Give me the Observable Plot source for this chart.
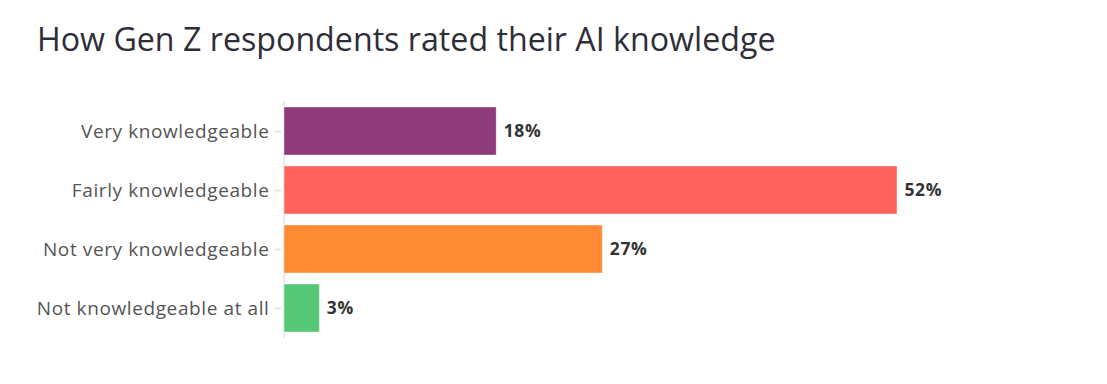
<!DOCTYPE html>
<html><head><meta charset="utf-8">
<script src="https://cdn.jsdelivr.net/npm/d3@7"></script>
<script src="https://cdn.jsdelivr.net/npm/@observablehq/plot@0.6"></script>
<style>
body{margin:0;background:#fff;font-family:"Open Sans",sans-serif;}
h2{margin:0;padding:19px 0 0 37px;height:60px;box-sizing:border-box;font-weight:400;font-size:32.2px;color:#2e2e38;line-height:40px;}
#chart svg text{letter-spacing:0.6px;}
</style></head><body>
<h2>How Gen Z respondents rated their AI knowledge</h2>
<div id="chart"></div>
<script>
const categories = ["Very knowledgeable","Fairly knowledgeable","Not very knowledgeable","Not knowledgeable at all"];
const values = [18,52,27,3];
const colors = ["#8f3a7b","#ff635c","#ff8a33","#56c776"];
const data = categories.map((c,i)=>({category:c,value:values[i]}));
const chart = Plot.plot({
  width:1107, height:324,
  marginLeft:284, marginRight:210, marginTop:41, marginBottom:46,
  style:{fontFamily:"Open Sans, sans-serif", background:"#fff"},
  x:{domain:[0,52], axis:null},
  y:{domain:categories, paddingInner:0.19, paddingOuter:0.1, label:null},
  color:{domain:categories, range:colors},
  marks:[
    Plot.ruleX([0],{stroke:"#e4e4e4", strokeWidth:1.5, dx:-0.5}),
    Plot.axisY({tickSize:6, tickPadding:6, dx:-3, fontSize:19, stroke:"#e0e0e0", strokeWidth:1.5, fill:"#555"}),
    Plot.barX(data,{y:"category", x:"value", fill:"category", stroke:"#fff", strokeOpacity:0.4}),
    Plot.text(data,{y:"category", x:"value", text:d=>d.value+"%", textAnchor:"start", dx:7, fontSize:17.5, fontWeight:"bold", fill:"#333"})
  ]
});
document.getElementById("chart").append(chart);
</script></body></html>
